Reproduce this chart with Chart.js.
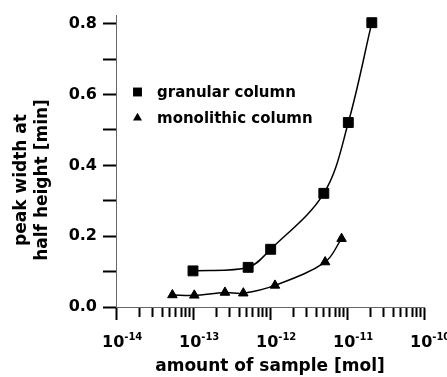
<!DOCTYPE html>
<html>
<head>
<meta charset="utf-8">
<script src="https://cdn.jsdelivr.net/npm/chart.js@4"></script>
<style>
  body { margin: 0; background: #fff; }
</style>
</head>
<body>
<canvas id="myChart" width="447" height="377"></canvas>
<script>
// amount of sample [mol] and peak width at half height [min]
let granularX = [1e-13, 5.2e-13, 1.02e-12, 5e-12, 1.04e-11, 2.1e-11];
let granularY = [0.102, 0.112, 0.163, 0.321, 0.521, 0.803];
let monolithicX = [5.4e-14, 1.04e-13, 2.6e-13, 4.5e-13, 1.16e-12, 5.2e-12, 8.5e-12];
let monolithicY = [0.034, 0.033, 0.041, 0.039, 0.061, 0.127, 0.193];

let xDecades = [-14, -13, -12, -11, -10];
let yTicks = [0, 0.1, 0.2, 0.3, 0.4, 0.5, 0.6, 0.7, 0.8];

const FONT = 'DejaVu Sans';
Chart.defaults.font.family = FONT;
Chart.defaults.font.weight = 'bold';
Chart.defaults.color = '#000';

// log ticks: 1..9 of every decade, plus the last decade
let xTicks = [];
for (let i = 0; i < xDecades.length - 1; i++) {
    for (let m = 1; m <= 9; m++) {
        xTicks.push(m * Math.pow(10, xDecades[i]));
    }
}
xTicks.push(Math.pow(10, xDecades[xDecades.length - 1]));

function isDecade(v) {
    let l = Math.log10(v);
    return Math.abs(l - Math.round(l)) < 1e-6;
}

function points(xs, ys) {
    return xs.map((x, i) => ({x: x, y: ys[i]}));
}

// "10" with a raised exponent under every decade tick
const decadeLabels = {
    id: 'decadeLabels',
    afterDraw(chart) {
        const ctx = chart.ctx;
        const x = chart.scales.x;
        ctx.save();
        ctx.fillStyle = '#000';
        ctx.textBaseline = 'alphabetic';
        ctx.textAlign = 'left';
        xDecades.forEach(e => {
            const px = x.getPixelForValue(Math.pow(10, e));
            ctx.font = 'bold 16px "' + FONT + '"';
            const w = ctx.measureText('10').width;
            const left = px - 14;
            ctx.fillText('10', left, 347);
            ctx.font = 'bold 10px "' + FONT + '"';
            ctx.fillText(String(e), left + w, 340);
        });
        ctx.restore();
    }
};

// two-line y title, a bit below the middle of the axis
const yTitle = {
    id: 'yTitle',
    afterDraw(chart) {
        const ctx = chart.ctx;
        ctx.save();
        ctx.fillStyle = '#000';
        ctx.font = 'bold 17px "' + FONT + '"';
        ctx.textAlign = 'center';
        ctx.textBaseline = 'middle';
        ctx.translate(22, 180);
        ctx.rotate(-Math.PI / 2);
        ctx.fillText('peak width at', 0, 0);
        ctx.fillText('half height [min]', 0, 21);
        ctx.restore();
    }
};

// legend inside the plot, upper left
const innerLegend = {
    id: 'innerLegend',
    afterDraw(chart) {
        const ctx = chart.ctx;
        const sizes = {rect: 6.3, triangle: 5.2};
        ctx.save();
        chart.data.datasets.forEach((ds, i) => {
            const y = 92 + i * 26;
            ctx.fillStyle = '#000';
            ctx.strokeStyle = '#000';
            Chart.helpers.drawPoint(ctx, {pointStyle: ds.pointStyle, radius: sizes[ds.pointStyle], rotation: 0, borderWidth: 0}, 137.5, y);
            ctx.font = 'bold 15px "' + FONT + '"';
            ctx.textAlign = 'left';
            ctx.textBaseline = 'alphabetic';
            ctx.fillText(ds.label, 157, y + 4.5);
        });
        ctx.restore();
    }
};

let ctx = document.getElementById('myChart').getContext('2d');
let chart = new Chart(ctx, {
    type: 'scatter',
    data: {
        datasets: [
            {
                label: 'granular column',
                data: points(granularX, granularY),
                showLine: true,
                tension: 0.35,
                borderColor: '#000',
                borderWidth: 1.5,
                backgroundColor: '#000',
                pointStyle: 'rect',
                pointRadius: 7,
                pointBorderWidth: 1,
                pointBackgroundColor: '#000',
                pointBorderColor: '#000'
            },
            {
                label: 'monolithic column',
                data: points(monolithicX, monolithicY),
                showLine: true,
                tension: 0.35,
                borderColor: '#000',
                borderWidth: 1.5,
                backgroundColor: '#000',
                pointStyle: 'triangle',
                pointRadius: 5.5,
                pointBorderWidth: 1,
                pointBackgroundColor: '#000',
                pointBorderColor: '#000'
            }
        ]
    },
    options: {
        responsive: false,
        devicePixelRatio: 1,
        animation: false,
        layout: {padding: {left: 0, top: 15, right: 23, bottom: 0}},
        plugins: {
            legend: {display: false},
            tooltip: {enabled: false}
        },
        scales: {
            x: {
                type: 'logarithmic',
                min: 1e-14,
                max: 1e-10,
                afterBuildTicks: s => { s.ticks = xTicks.map(v => ({value: v, major: isDecade(v)})); },
                afterFit: s => { s.height = 70; },
                ticks: {display: false, autoSkip: false},
                grid: {
                    drawOnChartArea: false,
                    drawTicks: true,
                    tickLength: 13,
                    tickColor: '#000',
                    tickWidth: 2,
                    tickBorderDash: c => isDecade(c.tick.value) ? [] : [9, 20]
                },
                border: {color: '#666', width: 1},
                title: {
                    display: true,
                    text: 'amount of sample [mol]',
                    font: {size: 17, weight: 'bold'},
                    padding: {top: 0, bottom: 0}
                }
            },
            y: {
                min: 0,
                max: 0.823,
                afterBuildTicks: s => { s.ticks = yTicks.map(v => ({value: v})); },
                afterFit: s => { s.width = 116; },
                ticks: {
                    autoSkip: false,
                    padding: 6,
                    font: {size: 16, weight: 'bold'},
                    callback: (v, i) => i % 2 === 0 ? v.toFixed(1) : ''
                },
                grid: {
                    drawOnChartArea: false,
                    drawTicks: true,
                    tickLength: 13,
                    tickColor: '#000',
                    tickWidth: 2
                },
                border: {color: '#666', width: 1}
            }
        }
    },
    plugins: [decadeLabels, yTitle, innerLegend]
});
</script>
</body>
</html>
